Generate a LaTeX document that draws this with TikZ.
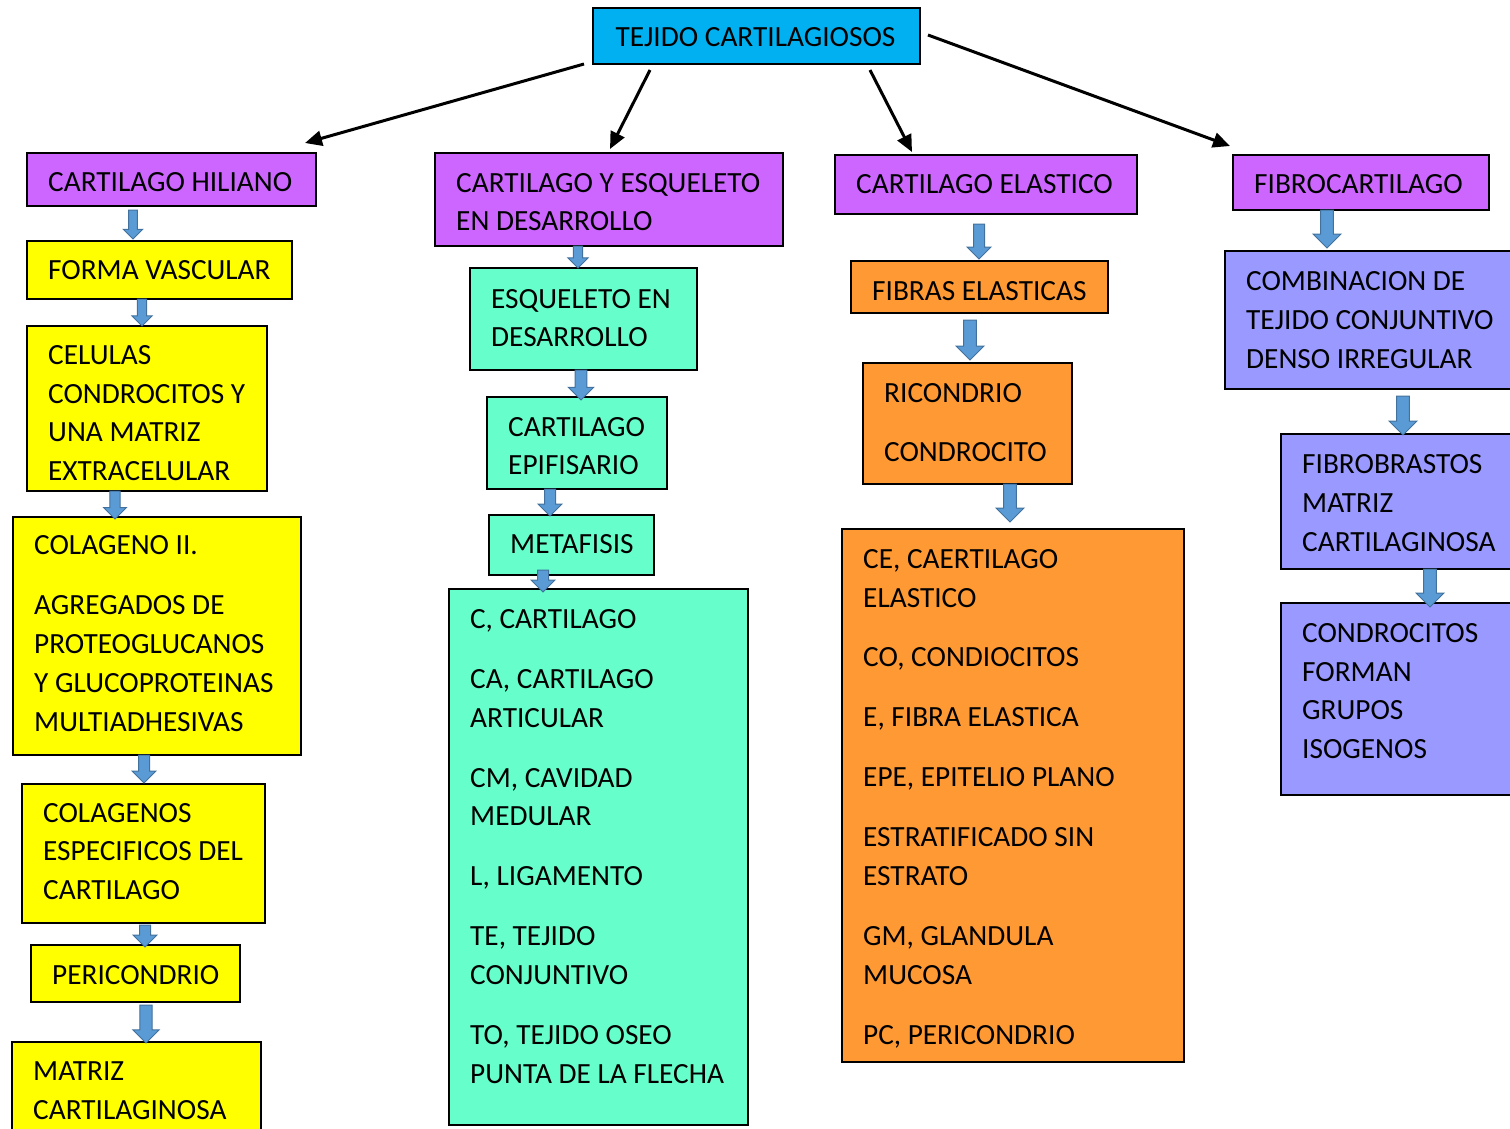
\documentclass[tikz,border=0pt]{standalone}
\usepackage{fontspec}
\setmainfont{Carlito}
\usetikzlibrary{arrows.meta,calc}
\definecolor{cyanc}{HTML}{00B0F0}
\definecolor{purc}{HTML}{CC66FF}
\definecolor{yelc}{HTML}{FFFF00}
\definecolor{grnc}{HTML}{66FFCC}
\definecolor{orac}{HTML}{FF9933}
\definecolor{lavc}{HTML}{9999FF}
\definecolor{arrfill}{HTML}{5B9BD5}
\definecolor{arrline}{HTML}{41719C}
\newcommand{\bx}[8][0]{%
  \node[box,fill=#3,minimum width=#6,minimum height=#7] (#2) at (#4,#5) {};
  \node[txt] (#2t) at ($(#2.west)+(21,#1)$) {#8};}
\newcommand{\barr}[6]{%
  \path[barrowst] let \p1=(#1.south), \p2=(#2.north) in
  ({#3pt-5.5pt*#6}, {\y1-1pt*(#4)}) -- ({#3pt+5.5pt*#6}, {\y1-1pt*(#4)})
  -- ({#3pt+5.5pt*#6}, {\y2+1pt*(#5)+12pt*#6}) -- ({#3pt+12pt*#6}, {\y2+1pt*(#5)+12pt*#6})
  -- ({#3pt}, {\y2+1pt*(#5)}) -- ({#3pt-12pt*#6}, {\y2+1pt*(#5)+12pt*#6})
  -- ({#3pt-5.5pt*#6}, {\y2+1pt*(#5)+12pt*#6}) -- cycle;}
\begin{document}
\begin{tikzpicture}[x=1pt,y=-1pt,
  box/.style={draw=black,line width=1.5pt,inner sep=0pt,outer sep=0pt,anchor=north west},
  txt/.style={anchor=west,align=left,inner sep=0pt,font=\fontsize{29.3}{38.8}\selectfont},
  barrowst/.style={fill=arrfill,draw=arrline,line width=1pt},
  conn/.style={draw=black,line width=3pt,-{Triangle[length=17pt,width=15pt]}}]
\useasboundingbox (0,0) rectangle (1510,1128);
\clip (0,0) rectangle (1510,1128);
% title
\node[box,fill=cyanc,minimum width=327,minimum height=56] (title) at (593,8) {};
\node[txt,anchor=center] (titlet) at ($(title.center)+(-1,1)$) {TEJIDO CARTILAGIOSOS};
% level 1
\bx[3]{hil}{purc}{27}{153}{289}{53}{CARTILAGO HILIANO}
\bx[2.5]{cye}{purc}{435}{153}{348}{93}{CARTILAGO Y ESQUELETO\\EN DESARROLLO}
\bx{ela}{purc}{835}{155}{302}{59}{CARTILAGO ELASTICO}
\bx[1.5]{fib}{purc}{1233}{155}{256}{55}{FIBROCARTILAGO}
% column 1
\bx{forma}{yelc}{27}{241}{265}{58}{FORMA VASCULAR}
\bx[4.5]{cel}{yelc}{27}{326}{240}{165}{CELULAS\\CONDROCITOS Y\\UNA MATRIZ\\EXTRACELULAR}
\bx[-2.5]{coll}{yelc}{13}{517}{288}{238}{COLAGENO II.\\[21.2pt]AGREGADOS DE\\PROTEOGLUCANOS\\Y GLUCOPROTEINAS\\MULTIADHESIVAS}
\bx[-2]{cole}{yelc}{22}{784}{243}{139}{COLAGENOS\\ESPECIFICOS DEL\\CARTILAGO}
\bx[1.5]{peri}{yelc}{31}{945}{209}{57}{PERICONDRIO}
\bx[-1.5]{mat}{yelc}{12}{1042}{249}{100}{MATRIZ\\CARTILAGINOSA}
% column 2
\bx[-1]{esq}{grnc}{470}{268}{227}{102}{ESQUELETO EN\\DESARROLLO}
\bx[3]{epi}{grnc}{487}{397}{180}{92}{CARTILAGO\\EPIFISARIO}
\bx[-1]{meta}{grnc}{489}{515}{165}{60}{METAFISIS}
\bx[-10.5]{gbig}{grnc}{449}{589}{299}{536}{C, CARTILAGO\\[21.2pt]CA, CARTILAGO\\ARTICULAR\\[21.2pt]CM, CAVIDAD\\MEDULAR\\[21.2pt]L, LIGAMENTO\\[21.2pt]TE, TEJIDO\\CONJUNTIVO\\[21.2pt]TO, TEJIDO OSEO\\PUNTA DE LA FLECHA}
% column 3
\bx[4]{fibr}{orac}{851}{261}{257}{52}{FIBRAS ELASTICAS}
\bx[-1]{ric}{orac}{863}{363}{209}{121}{RICONDRIO\\[21pt]CONDROCITO}
\bx[3]{obig}{orac}{842}{529}{342}{533}{CE, CAERTILAGO\\ELASTICO\\[21.1pt]CO, CONDIOCITOS\\[21.1pt]E, FIBRA ELASTICA\\[21.1pt]EPE, EPITELIO PLANO\\[21.1pt]ESTRATIFICADO SIN\\ESTRATO\\[21.1pt]GM, GLANDULA\\MUCOSA\\[21.1pt]PC, PERICONDRIO}
% column 4
\bx{comb}{lavc}{1225}{251}{300}{138}{COMBINACION DE\\TEJIDO CONJUNTIVO\\DENSO IRREGULAR}
\bx[1.5]{fbro}{lavc}{1281}{434}{240}{135}{FIBROBRASTOS\\MATRIZ\\CARTILAGINOSA}
\bx[-8]{cond}{lavc}{1281}{603}{240}{192}{CONDROCITOS\\FORMAN\\GRUPOS\\ISOGENOS}
% black connectors
\draw[conn] ($(title.south west)+(-9,0)$) -- ($(hil.north east)+(-11,-10)$);
\draw[conn] ($(title.south west)+(57,6)$) -- ($(cye.north west)+(175,-4)$);
\draw[conn] ($(title.south east)+(-50,6)$) -- ($(ela.north west)+(77,-3)$);
\draw[conn] ($(title.east)+(8,-1)$) -- ($(fib.north west)+(-3,-9)$);
% block arrows
\barr{hil}{forma}{133}{4}{2}{0.8}
\barr{forma}{cel}{142}{0}{0}{0.85}
\barr{cel}{coll}{115}{0}{-2}{0.95}
\barr{coll}{cole}{144}{0}{1}{1}
\barr{cole}{peri}{145}{2}{-2}{1}
\barr{peri}{mat}{146}{3}{-1}{1.1}
\barr{cye}{esq}{578}{0}{0}{0.85}
\barr{esq}{epi}{581}{0}{-3}{1.05}
\barr{epi}{meta}{550}{0}{-1}{1}
\barr{meta}{gbig}{543}{-5}{-3}{1}
\barr{ela}{fibr}{979}{10}{2}{1}
\barr{fibr}{ric}{970}{7}{3}{1.15}
\barr{ric}{obig}{1010}{0}{7}{1.15}
\barr{fib}{comb}{1327}{0}{3}{1.15}
\barr{comb}{fbro}{1403}{7}{-1}{1.15}
\barr{fbro}{cond}{1430}{0}{-4}{1.15}
\end{tikzpicture}
\end{document}
